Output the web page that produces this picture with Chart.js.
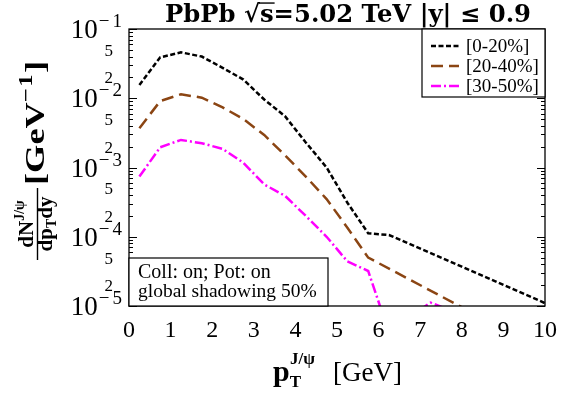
<!DOCTYPE html>
<html>
<head>
<meta charset="utf-8">
<script src="https://cdn.jsdelivr.net/npm/chart.js@4.4.0/dist/chart.umd.min.js"></script>
<style>
  html, body { margin: 0; padding: 0; background: #fff; }
</style>
</head>
<body>
<canvas id="myChart" width="575" height="394"></canvas>
<script>
// series (pT in GeV, dN/dpTdy in GeV^-1)
const seriesLabels = ['[0-20%]', '[20-40%]', '[30-50%]'];

const pt0020 = [0.25, 0.75, 1.25, 1.75, 2.25, 2.75, 3.25, 3.75, 4.25, 4.75, 5.25, 5.75, 6.25, 8.0, 10.0];
const y0020  = [1.55e-2, 3.9e-2, 4.6e-2, 4.0e-2, 2.75e-2, 1.86e-2, 9.6e-3, 5.5e-3, 2.3e-3, 1.0e-3, 3.1e-4, 1.12e-4, 1.06e-4, 3.7e-5, 1.1e-5];

const pt2040 = [0.25, 0.75, 1.25, 1.75, 2.25, 2.75, 3.25, 3.75, 4.25, 4.75, 5.25, 5.75, 8.0];
const y2040  = [3.7e-3, 9.1e-3, 1.14e-2, 1.02e-2, 7.4e-3, 5.0e-3, 2.95e-3, 1.5e-3, 7.4e-4, 3.5e-4, 1.35e-4, 5.0e-5, 9.6e-6];

const pt3050 = [0.25, 0.75, 1.25, 1.75, 2.25, 2.75, 3.25, 3.75, 4.25, 4.75, 5.25, 5.75, 6.25, 6.75, 7.25, 7.75];
const y3050  = [7.4e-4, 1.96e-3, 2.5e-3, 2.24e-3, 1.86e-3, 1.17e-3, 5.7e-4, 3.9e-4, 2.0e-4, 1.0e-4, 4.4e-5, 3.2e-5, 4.1e-6, 7.0e-6, 1.12e-5, 8.5e-6];

const xTicks = [0, 1, 2, 3, 4, 5, 6, 7, 8, 9, 10];
const yMajorExp = [-1, -2, -3, -4, -5];
const yMinorLabels = [5, 2];

const SERIF = '"Liberation Serif", "DejaVu Serif", serif';
const WIDE = '"DejaVu Serif", "Liberation Serif", serif';

function toPoints(xs, ys) {
    return xs.map((x, i) => ({ x: x, y: ys[i] }));
}

function runsWidth(ctx, runs) {
    let total = 0;
    runs.forEach(r => { ctx.font = r.font; total += ctx.measureText(r.t).width + (r.gap || 0); });
    return total;
}

// draw a run of text pieces [{t, font, dy}] starting at x
function drawRuns(ctx, x, y, runs, align) {
    const total = runsWidth(ctx, runs);
    let cx = align === 'center' ? x - total / 2 : (align === 'right' ? x - total : x);
    runs.forEach(r => {
        ctx.font = r.font;
        const w = ctx.measureText(r.t).width;
        ctx.fillText(r.t, cx, y + (r.dy || 0));
        if (r.over) {
            ctx.lineWidth = 1.4;
            ctx.beginPath();
            ctx.moveTo(cx - 1, y + r.over);
            ctx.lineTo(cx + w + 1, y + r.over);
            ctx.stroke();
        }
        cx += w + (r.gap || 0);
    });
    return total;
}

const decor = {
    id: 'decor',
    afterDraw(chart) {
        const ctx = chart.ctx;
        const area = chart.chartArea;
        const ys = chart.scales.y;
        ctx.save();
        ctx.fillStyle = '#000';
        ctx.strokeStyle = '#000';
        ctx.textBaseline = 'alphabetic';

        // inward log ticks, left and right
        ctx.lineWidth = 1;
        for (let e = -5; e <= -2; e++) {
            for (let m = 1; m <= 10; m++) {
                const v = m * Math.pow(10, e);
                const py = Math.round(ys.getPixelForValue(v)) + 0.5;
                const len = (m === 1 || m === 10) ? 8 : 4;
                ctx.beginPath();
                ctx.moveTo(area.left, py); ctx.lineTo(area.left + len, py);
                ctx.moveTo(area.right, py); ctx.lineTo(area.right - len, py);
                ctx.stroke();
            }
        }

        // frame
        ctx.lineWidth = 1.3;
        ctx.strokeRect(area.left, area.top, area.right - area.left, area.bottom - area.top);

        // y tick labels
        yMajorExp.forEach(e => {
            const py = ys.getPixelForValue(Math.pow(10, e));
            ctx.font = '27px ' + SERIF;
            const wb = ctx.measureText('10').width;
            ctx.font = '19px ' + SERIF;
            const we = ctx.measureText('\u2212' + (-e)).width + 4;
            const right = 122;
            ctx.font = '27px ' + SERIF;
            ctx.fillText('10', right - we - wb, py + 9);
            ctx.font = '19px ' + SERIF;
            ctx.fillText('\u2212', right - we + 1, py - 2);
            ctx.fillText(String(-e), right - ctx.measureText(String(-e)).width, py - 2);
        });
        ctx.font = '17px ' + SERIF;
        ctx.textAlign = 'right';
        for (let e = -5; e <= -2; e++) {
            yMinorLabels.forEach(m => {
                const py = ys.getPixelForValue(m * Math.pow(10, e));
                ctx.fillText(String(m), 113, py + 6);
            });
        }
        ctx.textAlign = 'left';

        // title, sized to span the same width as the reference
        const titleRuns = (sz) => {
            const f = 'bold ' + sz.toFixed(2) + 'px ' + WIDE;
            return [
                { t: 'PbPb ', font: f },
                { t: '\u221A', font: f },
                { t: 's', font: f, over: -sz * 0.78 },
                { t: '=5.02 TeV |y| \u2264 0.9', font: f }
            ];
        };
        const tsz = 20 * 366 / runsWidth(ctx, titleRuns(20));
        drawRuns(ctx, 348, 22, titleRuns(tsz), 'center');

        // x axis title
        drawRuns(ctx, 273, 381, [
            { t: 'p', font: 'bold 30px ' + SERIF },
            { t: 'T', font: 'bold 17px ' + SERIF, dy: 6, gap: -11 },
            { t: 'J/\u03C8', font: 'bold 17px ' + SERIF, dy: -17, gap: 18 },
            { t: '[GeV]', font: '27px ' + SERIF }
        ], 'left');

        // y axis title, rotated
        ctx.save();
        ctx.translate(0, 260);
        ctx.rotate(-Math.PI / 2);
        const fb = 'bold 21px ' + SERIF;
        const fs = 'bold 14px ' + SERIF;
        drawRuns(ctx, 36, 33, [
            { t: 'dN', font: fb },
            { t: 'J/\u03C8', font: fs, dy: -9 }
        ], 'center');
        drawRuns(ctx, 36, 52, [
            { t: 'dp', font: fb },
            { t: 'T', font: fs, dy: 4 },
            { t: 'dy', font: fb }
        ], 'center');
        ctx.lineWidth = 1.4;
        ctx.beginPath();
        ctx.moveTo(0, 37.5); ctx.lineTo(72, 37.5);
        ctx.stroke();
        const unitRuns = [
            { t: '[GeV', font: 'bold 28px ' + SERIF },
            { t: '\u2212', font: 'bold 19px ' + SERIF, dy: -12, gap: 1 },
            { t: '1', font: 'bold 19px ' + SERIF, dy: -12, gap: 1 },
            { t: ']', font: 'bold 28px ' + SERIF }
        ];
        // computer-modern bold is wider than Liberation: stretch along the text
        const stretch = 124 / runsWidth(ctx, unitRuns);
        ctx.translate(75, 0);
        ctx.scale(stretch, 1);
        drawRuns(ctx, 0, 44, unitRuns, 'left');
        ctx.restore();

        // legend box
        const lx = 422, ly = area.top, lw = area.right - 422, lh = 68;
        ctx.fillStyle = '#fff';
        ctx.fillRect(lx, ly, lw, lh);
        ctx.fillStyle = '#000';
        ctx.lineWidth = 1.2;
        ctx.strokeRect(lx, ly, lw, lh);
        chart.data.datasets.forEach((ds, i) => {
            const rowY = ly + 17 + i * 20;
            ctx.save();
            ctx.strokeStyle = ds.borderColor;
            ctx.lineWidth = ds.borderWidth;
            ctx.setLineDash(ds.borderDash);
            ctx.beginPath();
            ctx.moveTo(431, rowY); ctx.lineTo(459, rowY);
            ctx.stroke();
            ctx.restore();
            ctx.font = '19px ' + SERIF;
            ctx.fillText(ds.label, 466, rowY + 6);
        });

        // settings box
        ctx.lineWidth = 1.2;
        ctx.fillStyle = '#fff';
        ctx.fillRect(area.left, 258, 199, area.bottom - 258);
        ctx.fillStyle = '#000';
        ctx.strokeRect(area.left, 258, 199, area.bottom - 258);
        ctx.font = '20px ' + SERIF;
        ctx.fillText('Coll: on; Pot: on', 138, 278);
        ctx.font = '19.5px ' + SERIF;
        ctx.fillText('global shadowing 50%', 138, 297);

        ctx.restore();
    }
};

const ctx = document.getElementById('myChart').getContext('2d');

const lineChart = new Chart(ctx, {
    type: 'line',
    data: {
        datasets: [
            {
                label: seriesLabels[0],
                data: toPoints(pt0020, y0020),
                borderColor: '#000000',
                borderWidth: 2.5,
                borderDash: [5, 2.5],
                pointRadius: 0,
                fill: false,
                tension: 0,
                clip: 0,
            },
            {
                label: seriesLabels[1],
                data: toPoints(pt2040, y2040),
                borderColor: '#8b4513',
                borderWidth: 2.5,
                borderDash: [12, 6],
                pointRadius: 0,
                fill: false,
                tension: 0,
                clip: 0,
            },
            {
                label: seriesLabels[2],
                data: toPoints(pt3050, y3050),
                borderColor: '#ff00ff',
                borderWidth: 2.5,
                borderDash: [10, 3, 2, 3],
                pointRadius: 0,
                fill: false,
                tension: 0,
                clip: 0,
            },
        ],
    },
    options: {
        responsive: false,
        devicePixelRatio: 1,
        animation: false,
        layout: { padding: { left: 0, top: 29, right: 30, bottom: 0 } },
        plugins: {
            legend: { display: false },
            tooltip: { enabled: false },
        },
        scales: {
            x: {
                type: 'linear',
                min: 0,
                max: 10,
                afterBuildTicks: (scale) => { scale.ticks = xTicks.map(v => ({ value: v })); },
                afterFit: (scale) => { scale.height = 88; },
                grid: { display: false, drawTicks: false },
                border: { display: false },
                ticks: {
                    color: '#000',
                    padding: 10,
                    maxRotation: 0,
                    font: { family: SERIF, size: 24 },
                },
            },
            y: {
                type: 'logarithmic',
                min: 1e-5,
                max: 1e-1,
                afterFit: (scale) => { scale.width = 129; },
                grid: { display: false, drawTicks: false },
                border: { display: false },
                ticks: { display: false },
            },
        },
    },
    plugins: [decor],
});
</script>
</body>
</html>
